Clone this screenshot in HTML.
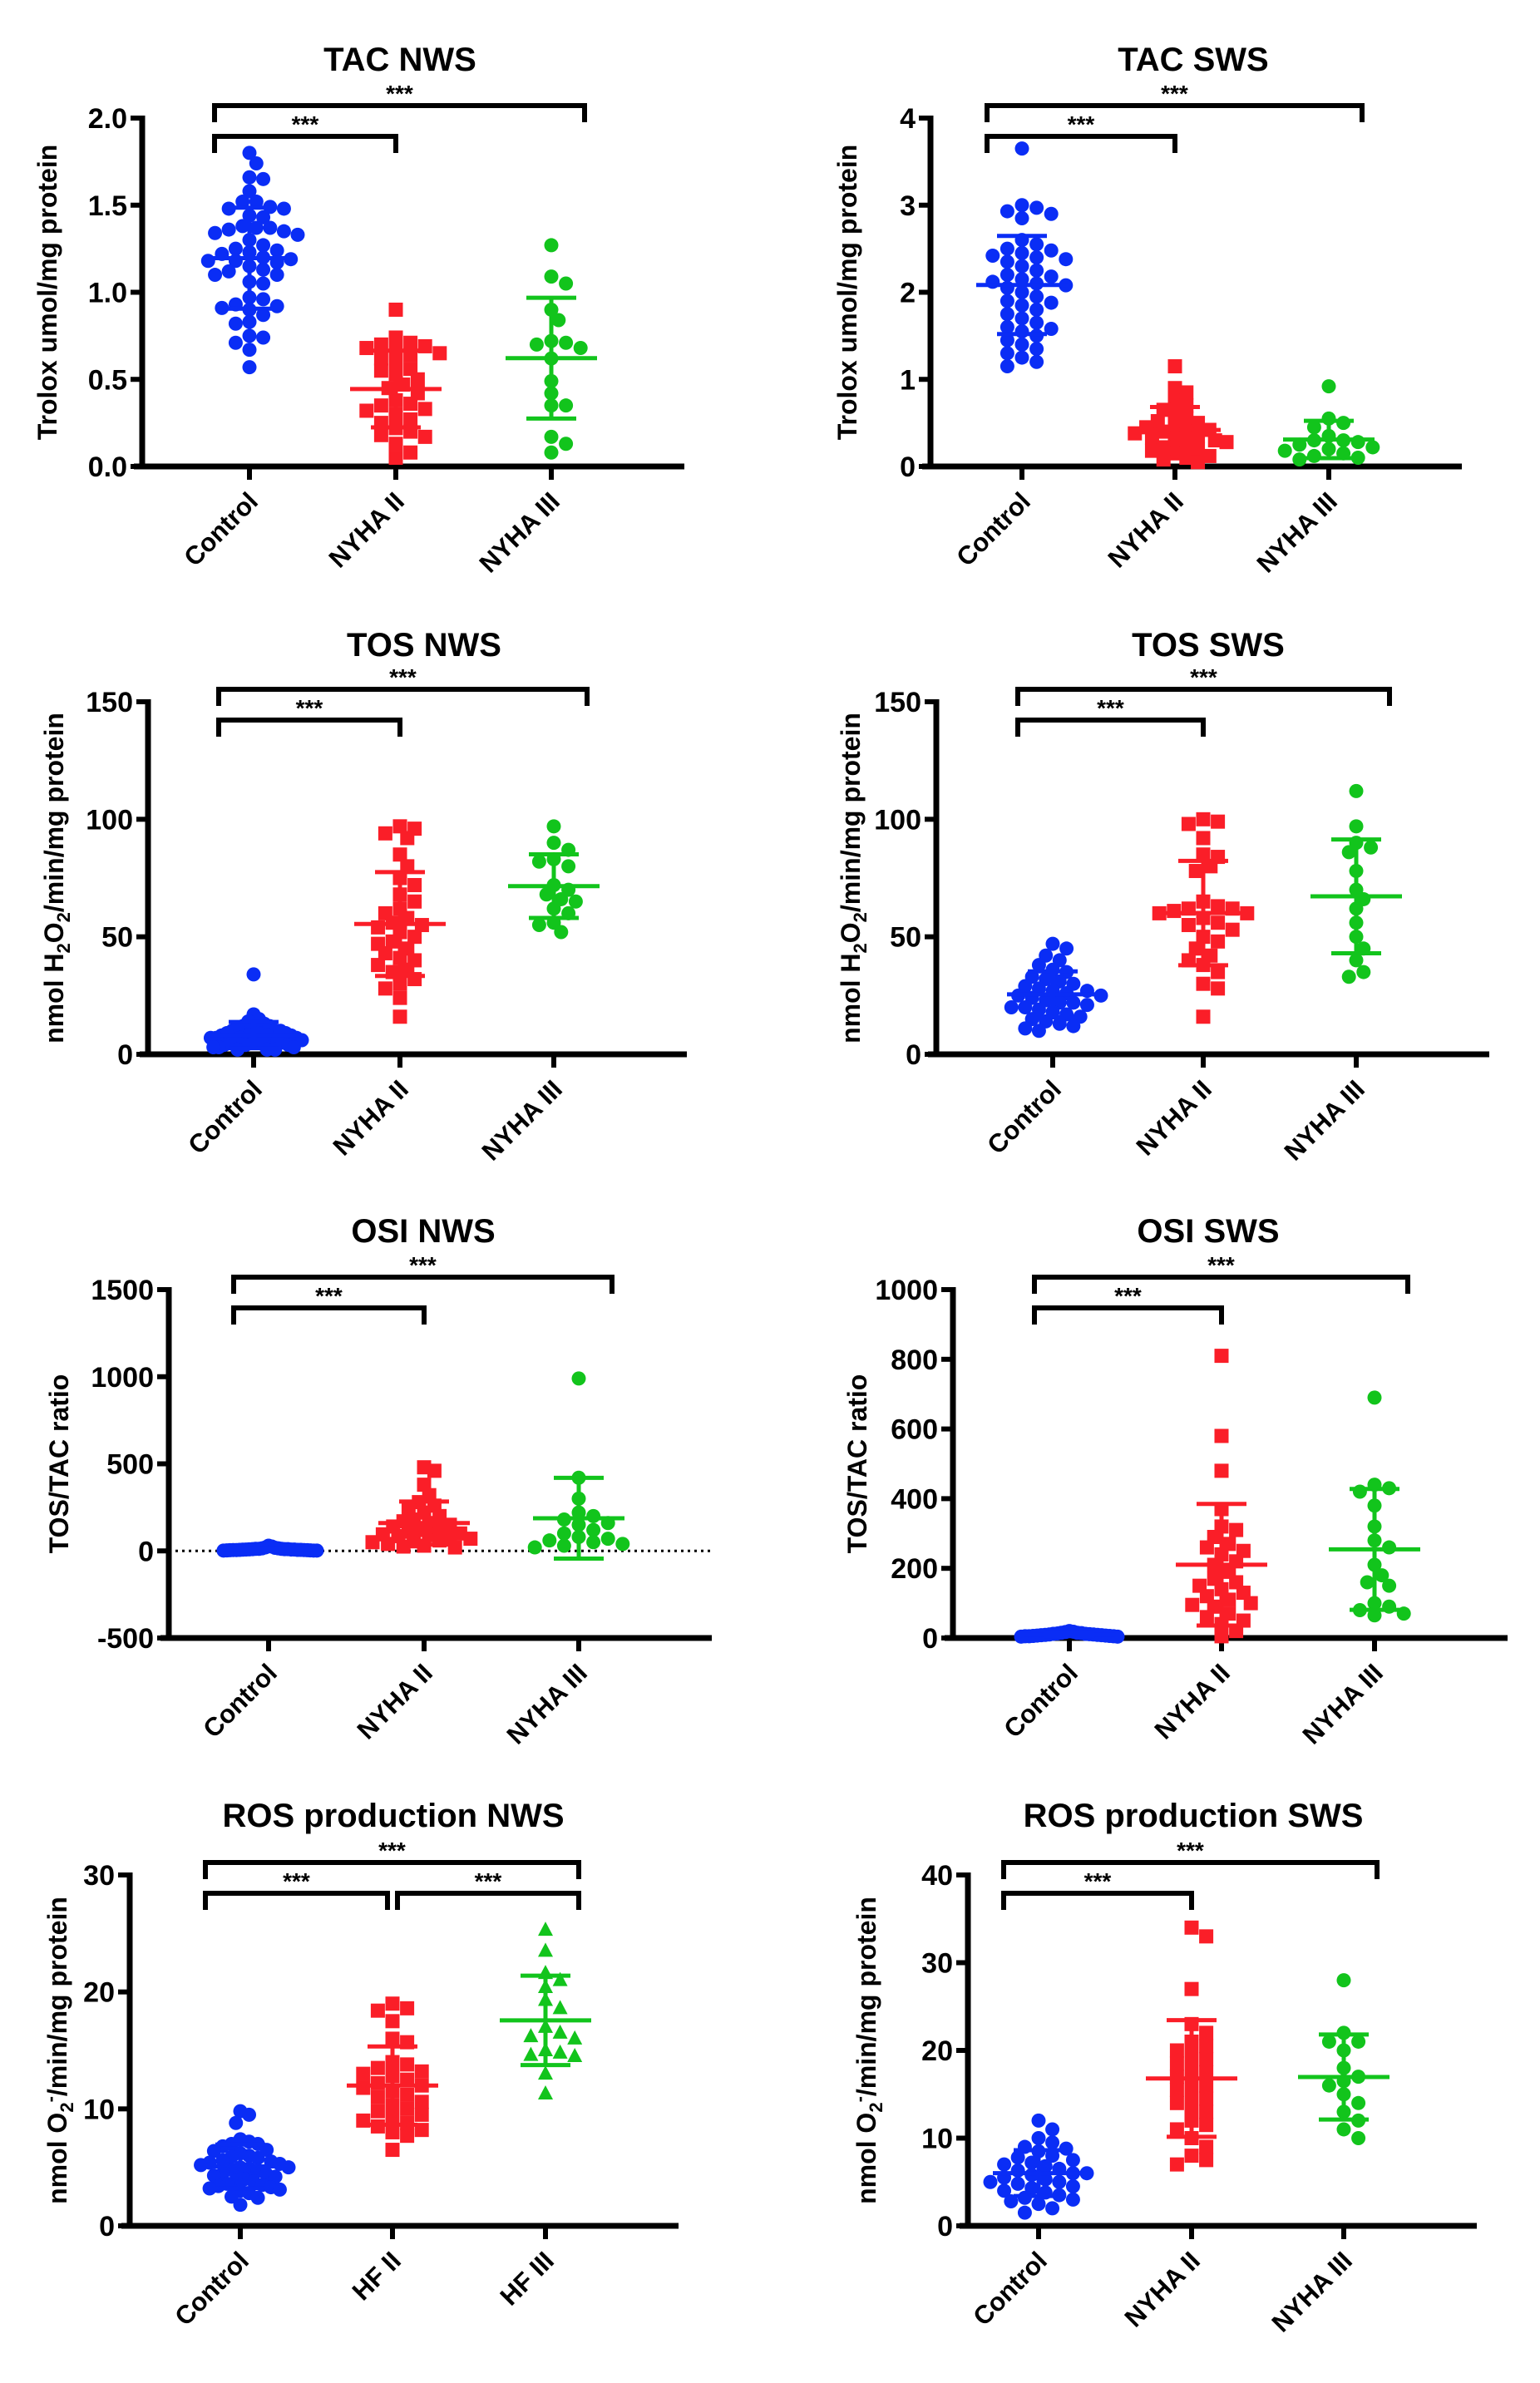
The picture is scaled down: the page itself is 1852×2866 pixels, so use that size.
<!DOCTYPE html>
<html><head><meta charset="utf-8"><title>Oxidative stress panels</title>
<style>
html,body{margin:0;padding:0;background:#fff;}
svg{display:block;}
text{font-family:"Liberation Sans Narrow","Liberation Sans",sans-serif;font-weight:bold;fill:#000;}
</style></head>
<body>
<svg id="fig" width="1852" height="2866" viewBox="0 0 1852 2866" xmlns="http://www.w3.org/2000/svg"></svg>
<script>
// ---- data ----
const p1Control=[1.8,1.74,1.66,1.65,1.58,1.52,1.52,1.49,1.48,1.48,1.44,1.43,1.38,1.37,1.37,1.36,1.35,1.34,1.33,1.30,1.27,1.25,1.24,1.23,1.22,1.20,1.19,1.18,1.18,1.17,1.15,1.13,1.12,1.10,1.10,1.06,1.05,0.97,0.96,0.93,0.92,0.91,0.90,0.87,0.83,0.82,0.75,0.74,0.71,0.67,0.57];
const p1NyhaII=[0.9,0.74,0.71,0.70,0.69,0.68,0.67,0.65,0.64,0.62,0.60,0.56,0.55,0.53,0.50,0.47,0.45,0.42,0.38,0.36,0.35,0.33,0.32,0.30,0.27,0.25,0.22,0.20,0.18,0.17,0.13,0.08,0.05];
const p1NyhaIII=[1.27,1.09,1.05,0.90,0.84,0.72,0.71,0.70,0.68,0.62,0.49,0.42,0.35,0.35,0.17,0.13,0.08];
const p2Control=[3.65,3.0,2.97,2.93,2.9,2.85,2.6,2.55,2.5,2.48,2.45,2.42,2.4,2.38,2.35,2.3,2.25,2.2,2.18,2.15,2.12,2.1,2.08,2.05,2.0,1.95,1.9,1.88,1.85,1.8,1.75,1.7,1.65,1.6,1.58,1.55,1.5,1.45,1.4,1.35,1.3,1.25,1.2,1.15];
const p2NyhaII=[1.15,0.9,0.85,0.75,0.7,0.65,0.6,0.55,0.52,0.5,0.45,0.42,0.4,0.38,0.35,0.33,0.3,0.28,0.25,0.22,0.2,0.18,0.15,0.12,0.1,0.08,0.05,0.3,0.4,0.45];
const p2NyhaIII=[0.92,0.55,0.5,0.45,0.35,0.3,0.28,0.25,0.22,0.2,0.18,0.15,0.12,0.1,0.08,0.3];
const p3Control=[34,17,15,14,13,12,12,11,11,10,10,10,9,9,9,8,8,8,8,7,7,7,7,6,6,6,6,5,5,5,5,4,4,4,3,3,3,2,2,2];
const p3NyhaII=[97,96,94,92,85,80,75,72,68,65,62,60,58,56,55,54,52,50,48,47,45,43,41,40,38,36,35,32,30,28,24,16];
const p3NyhaIII=[97,90,87,83,82,80,72,70,68,66,65,62,60,56,55,52];
const p4Control=[47,45,42,40,38,36,35,33,32,31,30,29,28,27,27,26,25,25,24,23,22,22,21,20,20,19,18,17,16,15,14,13,12,11,10];
const p4NyhaII=[100,99,98,92,85,84,80,78,65,63,62,62,61,60,60,58,56,55,53,50,48,45,42,40,38,35,30,28,16];
const p4NyhaIII=[112,97,90,88,86,78,70,66,62,56,50,45,40,35,33];
const p5Control=[30,25,20,18,15,15,12,12,10,10,8,8,8,6,6,5,5,5,4,4,3,3,2,2,2,12,10,9,7,6];
const p5NyhaII=[480,460,380,320,280,260,240,220,200,180,170,160,150,140,130,120,110,100,95,90,85,80,70,60,55,50,40,30,25,20];
const p5NyhaIII=[990,420,300,220,200,180,160,150,120,100,80,70,60,50,40,30,20];
const p6Control=[20,18,17,15,15,14,13,12,12,11,10,10,9,9,8,8,7,7,6,6,5,5,5,4,4];
const p6NyhaII=[810,580,480,370,320,310,290,270,260,250,240,220,210,190,170,160,150,140,130,120,110,100,95,90,70,60,50,40,20,5];
const p6NyhaIII=[690,440,430,420,380,320,280,260,210,180,160,150,100,90,80,70,65];
const p7Control=[9.8,9.5,8.8,7.4,7.2,7,7,6.8,6.5,6.4,6.2,6,5.9,5.8,5.6,5.5,5.4,5.3,5.2,5,5,4.9,4.8,4.7,4.5,4.4,4.3,4.2,4,3.9,3.8,3.6,3.5,3.4,3.3,3.2,3.1,3,2.8,2.5,2.4,1.8];
const p7HfII=[19,18.6,18.4,17.5,16,15.7,14,13.8,13.5,13.2,13,12.8,12.5,12.2,12,11.8,11.5,11.2,11,10.6,10.3,10,9.8,9.5,9.2,9,8.8,8.5,8.2,8,7.7,6.5];
const p7HfIII=[25.3,23.5,21.6,21,20.4,19.3,18.6,17,16.5,16.2,16,15,14.8,14.5,14.6,13,11.3];
const p8Control=[12,11,10,9.5,9,8.8,8.5,8,7.8,7.5,7.2,7,6.8,6.5,6.3,6,6,5.8,5.5,5.3,5,5,4.8,4.5,4.3,4,3.8,3.5,3.2,3,2.8,2.5,2,1.5];
const p8NyhaII=[34,33,27,23,22,21,20.5,20,19.5,19,18.5,18,17.5,17,16.5,16,15.5,15,14.5,14,13.5,13,12,11.5,11,10,9,8,7.5,7];
const p8NyhaIII=[28,22,21,21,20,18,17,16.5,16,15,14,13,12,11,10];

const catsNyha=["Control","NYHA II","NYHA III"];
const catsHf=["Control","HF II","HF III"];
const ticksTac1=[0,0.5,1,1.5,2];
const ticksTacLabels1=["0.0","0.5","1.0","1.5","2.0"];
const ticksTac2=[0,1,2,3,4];
const ticksTos=[0,50,100,150];
const ticksOsi1=[-500,0,500,1000,1500];
const ticksOsi2=[0,200,400,600,800,1000];
const ticksRos1=[0,10,20,30];
const ticksRos2=[0,10,20,30,40];

// ---- layout ----
const NS="http://www.w3.org/2000/svg";
const svg=document.getElementById('fig');
const COLORS=["#0a2df5","#fa1e28","#12c41c"];
function mk(tag,attrs,parent){const e=document.createElementNS(NS,tag);for(const k in attrs)e.setAttribute(k,attrs[k]);(parent||svg).appendChild(e);return e;}

const panels=[
 {title:"TAC NWS",ax:171,top:142,bot:561,cx:[300,476,663],tx:481,ty:85,ymin:0,ymax:2,ticks:ticksTac1,tl:ticksTacLabels1,cats:catsNyha,data:[p1Control,p1NyhaII,p1NyhaIII],ylab:["Trolox umol/mg protein"],labx:68,shape:["c","s","c"]},
 {title:"TAC SWS",ax:1119,top:142,bot:561,cx:[1229,1413,1598],tx:1435,ty:85,ymin:0,ymax:4,ticks:ticksTac2,cats:catsNyha,data:[p2Control,p2NyhaII,p2NyhaIII],ylab:["Trolox umol/mg protein"],labx:1030,shape:["c","s","c"]},
 {title:"TOS NWS",ax:178,top:844,bot:1268,cx:[305,481,666],tx:510,ty:789,ymin:0,ymax:150,ticks:ticksTos,cats:catsNyha,data:[p3Control,p3NyhaII,p3NyhaIII],ylab:"h2o2",labx:76,shape:["c","s","c"]},
 {title:"TOS SWS",ax:1126,top:844,bot:1268,cx:[1266,1447,1631],tx:1453,ty:789,ymin:0,ymax:150,ticks:ticksTos,cats:catsNyha,data:[p4Control,p4NyhaII,p4NyhaIII],ylab:"h2o2",labx:1034,shape:["c","s","c"]},
 {title:"OSI NWS",ax:203,top:1551,bot:1970,cx:[323,510,696],tx:509,ty:1494,ymin:-500,ymax:1500,ticks:ticksOsi1,cats:catsNyha,data:[p5Control,p5NyhaII,p5NyhaIII],ylab:["TOS/TAC ratio"],labx:82,shape:["c","s","c"],zero:true},
 {title:"OSI SWS",ax:1146,top:1551,bot:1970,cx:[1286,1469,1653],tx:1453,ty:1494,ymin:0,ymax:1000,ticks:ticksOsi2,cats:catsNyha,data:[p6Control,p6NyhaII,p6NyhaIII],ylab:["TOS/TAC ratio"],labx:1042,shape:["c","s","c"]},
 {title:"ROS production NWS",ax:156,top:2255,bot:2677,cx:[289,472,656],tx:473,ty:2197,ymin:0,ymax:30,ticks:ticksRos1,cats:catsHf,data:[p7Control,p7HfII,p7HfIII],ylab:"o2",labx:80,shape:["c","s","t"],three:true},
 {title:"ROS production SWS",ax:1164,top:2255,bot:2677,cx:[1249,1433,1616],tx:1435,ty:2197,ymin:0,ymax:40,ticks:ticksRos2,cats:catsNyha,data:[p8Control,p8NyhaII,p8NyhaIII],ylab:"o2",labx:1053,shape:["c","s","c"]}
];

function beeswarm(vals,yf,cx,d,maxW){
  const sorted=vals.map(v=>({v:v,y:yf(v)})).sort((a,b)=>a.y-b.y);
  const placed=[];
  sorted.forEach(p=>{
    for(let k=0;k<80;k++){
      const off=(k%2?1:-1)*Math.ceil(k/2)*d*0.55;
      if(placed.every(q=>(q.off-off)**2+(q.y-p.y)**2>=d*d*0.8)){placed.push({off:off,y:p.y});break;}
    }
  });
  const ext=Math.max(1,...placed.map(p=>Math.abs(p.off)));
  const s=ext>maxW?maxW/ext:1;
  return placed.map(p=>({x:cx+p.off*s,y:p.y}));
}

panels.forEach((P,pi)=>{
  const g=mk('g',{});
  
  
  const y=v=>P.bot-(v-P.ymin)/(P.ymax-P.ymin)*(P.bot-P.top);
  const xEnd=P.cx[2]+160;
  const t=mk('text',{x:P.tx,y:P.ty,'text-anchor':'middle','font-size':40,style:'font-family:"Liberation Sans",sans-serif'},g);
  t.textContent=P.title;
  
  
  const ya=mk('line',{x1:P.ax,y1:P.top-3,x2:P.ax,y2:P.bot+3,stroke:'#000','stroke-width':7},g);
  
  
  const xa=mk('line',{x1:P.ax-10,y1:P.bot,x2:xEnd,y2:P.bot,stroke:'#000','stroke-width':7},g);
  
  
  P.ticks.forEach((tv,i)=>{
    mk('line',{x1:P.ax-14,y1:y(tv),x2:P.ax,y2:y(tv),stroke:'#000','stroke-width':6},g);
    const tt=mk('text',{x:P.ax-18,y:y(tv)+12,'text-anchor':'end','font-size':34},g);
    tt.textContent=P.tl?P.tl[i]:String(tv);
    
    
  });
  if(P.zero){
    const z=mk('line',{x1:P.ax,y1:y(0),x2:xEnd,y2:y(0),stroke:'#000','stroke-width':3,'stroke-dasharray':'3 5'},g);
    
    
  }
  const mid=(P.top+P.bot)/2;
  const yl=mk('text',{x:0,y:0,'text-anchor':'middle','font-size':32,transform:`translate(${P.labx},${mid}) rotate(-90)`,style:'font-family:"Liberation Sans",sans-serif'},g);
  
  
  if(P.ylab==="h2o2"){yl.innerHTML='nmol H<tspan font-size="22" dy="8">2</tspan><tspan dy="-8">O</tspan><tspan font-size="22" dy="8">2</tspan><tspan dy="-8">/min/mg protein</tspan>';}
  else if(P.ylab==="o2"){yl.innerHTML='nmol O<tspan font-size="22" dy="8">2</tspan><tspan font-size="22" dy="-20">-</tspan><tspan dy="12">/min/mg protein</tspan>';}
  else yl.textContent=P.ylab[0];
  P.cats.forEach((c,i)=>{
    mk('line',{x1:P.cx[i],y1:P.bot,x2:P.cx[i],y2:P.bot+16,stroke:'#000','stroke-width':6},g);
    const ct=mk('text',{x:0,y:0,'text-anchor':'end','font-size':31,transform:`translate(${P.cx[i]+12},${P.bot+44}) rotate(-45)`,style:'font-family:"Liberation Sans",sans-serif'},g);
    ct.textContent=c;
    
    
  });
  const x0=P.cx[0]-42, bTop=P.top-15, bIn=P.top+22, drop=20;
  function bracket(xa_,xb,yy,name){
    const b=mk('path',{d:`M${xa_},${yy+drop} V${yy} H${xb} V${yy+drop}`,fill:'none',stroke:'#000','stroke-width':6},g);
    
    
    const st=mk('text',{x:(xa_+xb)/2,y:yy-5,'text-anchor':'middle','font-size':28,style:'font-family:"Liberation Sans",sans-serif'},g);
    st.textContent='***';
    
    
  }
  bracket(x0,P.cx[2]+40,bTop,'bracket-control-vs-group3');
  if(P.three){bracket(x0,P.cx[1]-6,bIn,'bracket-control-vs-group2');bracket(P.cx[1]+6,P.cx[2]+40,bIn,'bracket-group2-vs-group3');}
  else bracket(x0,P.cx[1],bIn,'bracket-control-vs-group2');
  P.data.forEach((vals,gi)=>{
    const col=COLORS[gi], sh=P.shape[gi], d=16;
    const pts=beeswarm(vals,y,P.cx[gi],d,gi===0?58:62);
    pts.forEach(p=>{
      let m;
      if(sh==='c') m=mk('circle',{cx:p.x,cy:p.y,r:8.5,fill:col},g);
      else if(sh==='s') m=mk('rect',{x:p.x-8.5,y:p.y-8.5,width:17,height:17,fill:col},g);
      else m=mk('polygon',{points:`${p.x},${p.y-10} ${p.x-9},${p.y+7} ${p.x+9},${p.y+7}`,fill:col},g);
      
      
    });
    const n=vals.length, mean=vals.reduce((a,b)=>a+b,0)/n;
    const sd=Math.sqrt(vals.reduce((a,b)=>a+(b-mean)**2,0)/(n-1));
    const cx=P.cx[gi];
    const ml=mk('line',{x1:cx-55,y1:y(mean),x2:cx+55,y2:y(mean),stroke:col,'stroke-width':5},g);
    
    
    const el=mk('path',{d:`M${cx},${y(mean+sd)} V${y(mean-sd)} M${cx-30},${y(mean+sd)} H${cx+30} M${cx-30},${y(mean-sd)} H${cx+30}`,stroke:col,'stroke-width':5,fill:'none'},g);
    
    
  });
});
</script>
</body></html>
